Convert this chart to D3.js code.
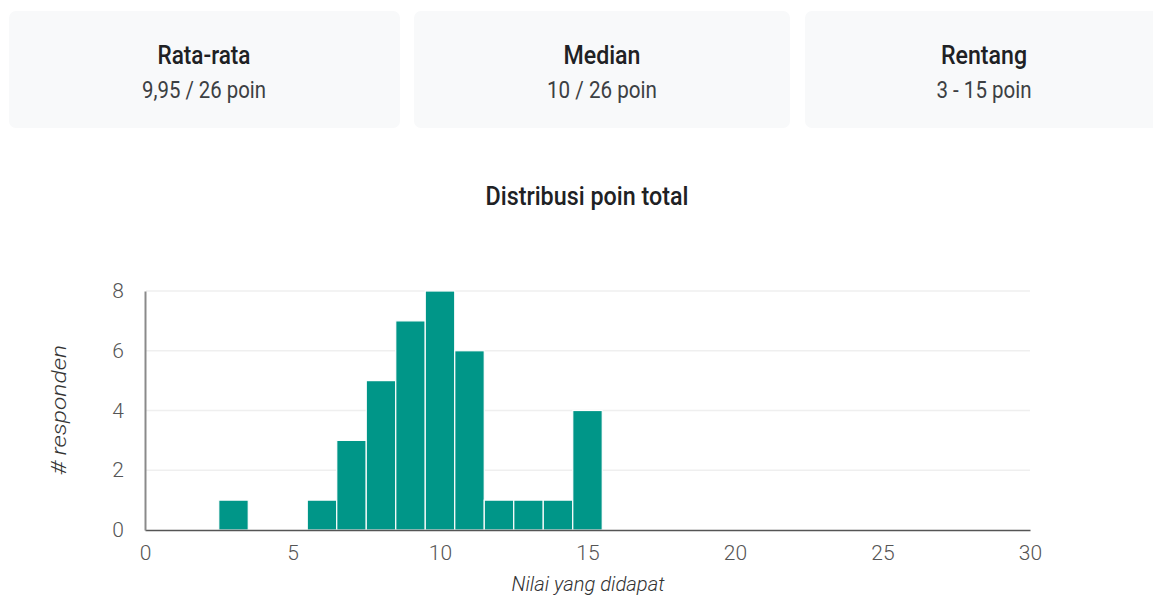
<!DOCTYPE html>
<html><head><meta charset="utf-8">
<script src="https://cdn.jsdelivr.net/npm/d3@7"></script>
<style>
html,body{margin:0;padding:0;background:#fff;width:1153px;height:596px;overflow:hidden;font-family:Roboto,"Noto Sans",sans-serif;}
</style></head>
<body><svg id="c" width="1153" height="596"></svg>
<script>
const cardTitles = ["Rata-rata", "Median", "Rentang"];
const cardValues = ["9,95 / 26 poin", "10 / 26 poin", "3 - 15 poin"];
const scores = [3, 6, 7, 8, 9, 10, 11, 12, 13, 14, 15];
const counts = [1, 1, 3, 5, 7, 8, 6, 1, 1, 1, 4];
const xTicks = [0, 5, 10, 15, 20, 25, 30];
const yTicks = [0, 2, 4, 6, 8];
const chartTitle = "Distribusi poin total";
const xLabel = "Nilai yang didapat";
const yLabel = "# responden";

const svg = d3.select("#c");
const cards = [[9, 400], [414, 790], [805, 1170]];
const cardCenters = [204, 602, 984];
const titleLen = [93, 77, 86];
const valueLen = [124, 110, 95];
cards.forEach((c, i) => {
  svg.append("rect").attr("x", c[0]).attr("y", 11).attr("width", c[1]-c[0]).attr("height", 117)
    .attr("rx", 7).attr("fill", "#f8f9fa");
  svg.append("text").attr("x", cardCenters[i]).attr("y", 64).attr("text-anchor","middle")
    .attr("font-size", 25).attr("font-weight", 500).attr("fill", "#202124")
    .attr("textLength", titleLen[i]).attr("lengthAdjust", "spacingAndGlyphs").text(cardTitles[i]);
  svg.append("text").attr("x", cardCenters[i]).attr("y", 98).attr("text-anchor","middle")
    .attr("font-size", 23).attr("fill", "#3c4043")
    .attr("textLength", valueLen[i]).attr("lengthAdjust", "spacingAndGlyphs").text(cardValues[i]);
});

svg.append("text").attr("x", 587).attr("y", 204.5).attr("text-anchor","middle")
  .attr("font-size", 26).attr("font-weight", 500).attr("fill", "#202124")
  .attr("textLength", 203).attr("lengthAdjust", "spacingAndGlyphs").text(chartTitle);

const x = d3.scaleLinear().domain([0, 30]).range([145, 1030]);
const y = d3.scaleLinear().domain([0, 8]).range([530, 291]);

// gridlines
svg.append("g").selectAll("line").data(yTicks.filter(d => d > 0)).join("line")
  .attr("x1", 146).attr("x2", 1030).attr("y1", d => y(d)).attr("y2", d => y(d))
  .attr("stroke", "#efefef").attr("stroke-width", 1.5);

// bars
svg.append("g").selectAll("rect").data(scores).join("rect")
  .attr("x", (d) => x(d - 0.5))
  .attr("width", (d) => x(d + 0.5) - x(d - 0.5))
  .attr("y", (d, i) => y(counts[i]))
  .attr("height", (d, i) => y(0) - y(counts[i]))
  .attr("fill", "#009688").attr("stroke", "#ffffff").attr("stroke-width", 1.2);

// axes
const xAxis = svg.append("g").attr("transform", `translate(0,${y(0)})`)
  .call(d3.axisBottom(x).tickValues(xTicks).tickSize(0).tickPadding(15));
xAxis.select(".domain").attr("stroke", "#555").attr("stroke-width", 1.5);
xAxis.selectAll("text").attr("font-size", 21).attr("font-weight", 300).attr("fill", "#555").attr("font-family", "Roboto");

const yAxis = svg.append("g").attr("transform", `translate(${x(0)},0)`)
  .call(d3.axisLeft(y).tickValues(yTicks).tickSize(0).tickPadding(21));
yAxis.select(".domain").attr("stroke", "#8a8a8a").attr("stroke-width", 2);
yAxis.selectAll("text").attr("font-size", 21).attr("font-weight", 300).attr("fill", "#555").attr("font-family", "Roboto");

svg.append("text").attr("x", 588).attr("y", 591).attr("text-anchor","middle")
  .attr("font-size", 21).attr("font-weight", 300).attr("font-style","italic").attr("fill", "#333")
  .attr("textLength", 153).attr("lengthAdjust", "spacingAndGlyphs").text(xLabel);
svg.append("text").attr("transform", "translate(66,410) rotate(-90)").attr("text-anchor","middle")
  .attr("font-size", 21).attr("font-weight", 300).attr("font-style","italic").attr("fill", "#333")
  .attr("textLength", 130).attr("lengthAdjust", "spacingAndGlyphs").text(yLabel);
</script></body></html>
